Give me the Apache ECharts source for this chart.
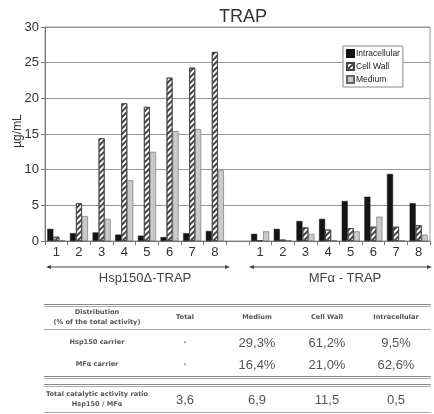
<!DOCTYPE html>
<html>
<head>
<meta charset="utf-8">
<script src="https://cdn.jsdelivr.net/npm/echarts@6/dist/echarts.min.js"></script>
<style>
  html,body{margin:0;padding:0;background:#fff;}
  #wrap{position:relative;width:434px;height:414px;overflow:hidden;}
  #chart{position:absolute;left:0;top:0;width:434px;height:414px;}
  .t{position:absolute;transform:translate(-50%,-50%);white-space:nowrap;text-align:center;}
  .h{font-family:"DejaVu Sans",sans-serif;font-weight:bold;font-size:6.6px;color:#555;line-height:10px;}
  .v{font-family:"Liberation Sans",Arial,sans-serif;font-size:13px;color:#555;}
  .ln{position:absolute;left:44px;width:387px;background:#999;}
</style>
</head>
<body>
<div id="wrap">
<div id="chart"></div>
</div>
<script>
// ---- data ----
const categories = ['1','2','3','4','5','6','7','8','','1','2','3','4','5','6','7','8'];
const intracellular = [1.7,1.1,1.2,0.9,0.75,0.55,1.1,1.4, null, 1.0,1.7,2.8,3.1,5.6,6.2,9.4,5.3];
const cellWall      = [0.6,5.3,14.4,19.3,18.8,22.9,24.3,26.5, null, 0.1,0.2,1.9,1.6,1.8,2.0,2.0,2.2];
const medium        = [0.1,3.5,3.1,8.5,12.5,15.4,15.7,9.9, null, 1.35,0.1,1.0,0.1,1.35,3.4,0.1,0.9];
const yTicks = [0,5,10,15,20,25,30];
const yName = '\u00b5g/mL';
const groupLabels = ['Hsp150\u0394-TRAP','MF\u03b1 - TRAP'];

const tableHeader = [['Distribution','(% of the total activity)'],['Total'],['Medium'],['Cell Wall'],['Intracellular']];
const tableRowLabels = [['Hsp150 carrier'],['MF\u03b1 carrier']];
const tableRows = [['-','29,3%','61,2%','9,5%'],['-','16,4%','21,0%','62,6%']];
const ratioLabel = ['Total catalytic activity ratio','Hsp150 / MF\u03b1'];
const ratioRow = ['3,6','6,9','11,5','0,5'];

// ---- chart ----
const chart = echarts.init(document.getElementById('chart'));
const barBase = {type:'bar', barWidth:6, barGap:'0%'};
chart.setOption({
  animation:false,
  title:{text:'TRAP', left:238, top:3, textAlign:'center',
    textStyle:{fontFamily:'Liberation Sans', fontSize:18, fontWeight:'normal', color:'#333'}},
  legend:{
    orient:'vertical', left:343, top:46, padding:[3,3,3,3], itemGap:4,
    itemWidth:7, itemHeight:7, borderColor:'#888', borderWidth:1, backgroundColor:'#fff',
    icon:'rect',
    textStyle:{fontFamily:'Liberation Sans', fontSize:8.5, color:'#222', padding:[0,0,0,-3]},
    data:['Intracellular','Cell Wall','Medium']
  },
  grid:{left:45, right:4, top:27, bottom:173, show:true, borderColor:'#999', borderWidth:1},
  xAxis:{
    type:'category', data:categories,
    axisLine:{lineStyle:{color:'#777'}},
    axisTick:{show:true, interval:0, length:4, lineStyle:{color:'#777'}},
    axisLabel:{interval:0, margin:5, fontFamily:'Liberation Sans', fontSize:13, color:'#333'}
  },
  yAxis:{
    type:'value', min:0, max:30, interval:5,
    axisLine:{show:true, lineStyle:{color:'#777'}},
    axisTick:{show:true, length:4, lineStyle:{color:'#777'}},
    axisLabel:{margin:6, fontFamily:'Liberation Sans', fontSize:13, color:'#333'},
    splitLine:{lineStyle:{color:'#999', width:1}}
  },
  series:[
    Object.assign({name:'Intracellular', data:intracellular,
      itemStyle:{color:'#151515', borderColor:'#111', borderWidth:0.5}}, barBase),
    Object.assign({name:'Cell Wall', data:cellWall,
      itemStyle:{color:'#fff', borderColor:'#444', borderWidth:0.8,
        decal:{symbol:'rect', symbolSize:1, dashArrayX:[[1,0]], dashArrayY:[1.3,1.5],
          rotation:-Math.PI/4, color:'#444'}}}, barBase),
    Object.assign({name:'Medium', data:medium,
      itemStyle:{color:'#cacaca', borderColor:'#666', borderWidth:0.6}}, barBase)
  ],
  graphic:[
    {type:'text', x:18, y:131, rotation:Math.PI/2, style:{text:yName, fontFamily:'Liberation Sans', fontSize:12, fill:'#333', align:'center', verticalAlign:'middle'}},
    {type:'line', shape:{x1:48,y1:267,x2:228,y2:267}, style:{stroke:'#444', lineWidth:1}},
    {type:'polygon', shape:{points:[[46,267],[51,265],[51,269]]}, style:{fill:'#444'}},
    {type:'polygon', shape:{points:[[230,267],[225,265],[225,269]]}, style:{fill:'#444'}},
    {type:'line', shape:{x1:251,y1:267,x2:430,y2:267}, style:{stroke:'#444', lineWidth:1}},
    {type:'polygon', shape:{points:[[249,267],[254,265],[254,269]]}, style:{fill:'#444'}},
    {type:'polygon', shape:{points:[[432,267],[427,265],[427,269]]}, style:{fill:'#444'}},
    {type:'text', x:145, y:278, style:{text:groupLabels[0], fontFamily:'Liberation Sans', fontSize:13, fill:'#444', align:'center', verticalAlign:'middle'}},
    {type:'text', x:345, y:278, style:{text:groupLabels[1], fontFamily:'Liberation Sans', fontSize:13, fill:'#444', align:'center', verticalAlign:'middle'}}
  ]
});

// ---- table (HTML) ----
const wrap = document.getElementById('wrap');
const colX = [97,185,257,327,396];
function addText(cls, x, y, lines){
  const d = document.createElement('div');
  d.className = 't ' + cls;
  d.style.left = x + 'px'; d.style.top = y + 'px';
  d.innerHTML = lines.join('<br>');
  wrap.appendChild(d);
}
function addLine(y, h, color){
  const d = document.createElement('div');
  d.className = 'ln';
  d.style.top = y + 'px'; d.style.height = h + 'px';
  if (color) d.style.background = color;
  wrap.appendChild(d);
}
addLine(304,1,'#888'); addLine(306,1,'#aaa');
tableHeader.forEach((lines,i)=>addText('h', colX[i], 317, lines));
addLine(329,1,'#aaa');
const rowY = [342,364];
tableRowLabels.forEach((lines,r)=>{
  addText('h', colX[0], rowY[r], lines);
  tableRows[r].forEach((v,c)=>addText(c===0?'h':'v', colX[c+1], rowY[r], [v]));
});
addLine(376,1,'#888'); addLine(378,1,'#aaa');
addLine(384,1,'#888'); addLine(386,1,'#aaa');
addText('h', colX[0], 399, ratioLabel);
ratioRow.forEach((v,c)=>addText('v', colX[c+1], 399, [v]));
addLine(412,1,'#aaa');
</script>
</body>
</html>
